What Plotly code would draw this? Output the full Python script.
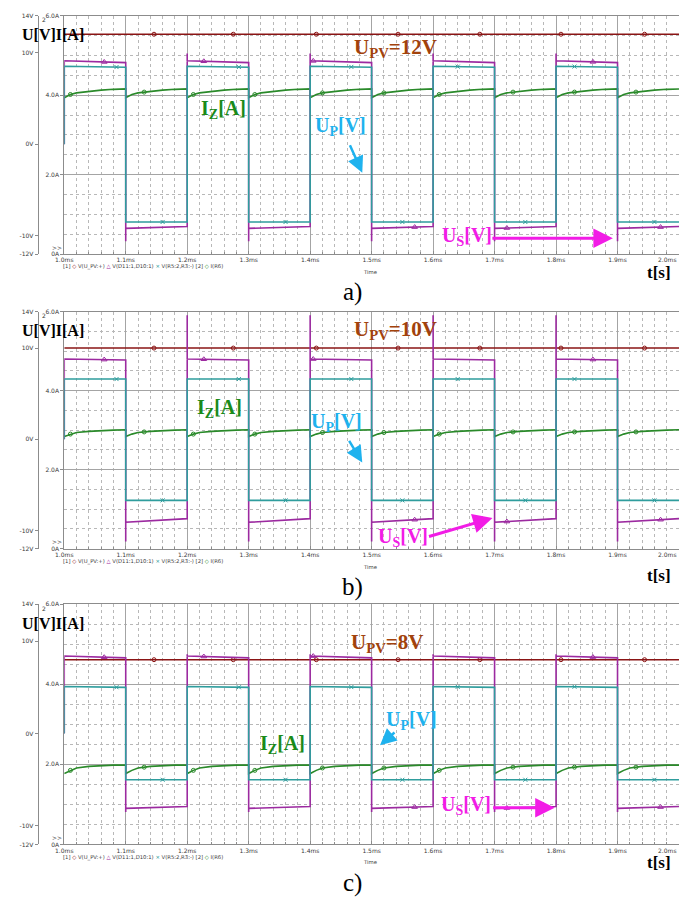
import plotly.graph_objects as go

# ---------------- data ----------------
T_SWITCH = [1.0, 1.1, 1.2, 1.3, 1.4, 1.5, 1.6, 1.7, 1.8, 1.9, 2.0]   # ms
STATE = [1, 0, 1, 0, 1, 0, 1, 0, 1, 0]                               # 1 = high half-period
X_TICKS = [1.0, 1.1, 1.2, 1.3, 1.4, 1.5, 1.6, 1.7, 1.8, 1.9]
X_TICKTEXT = ["1.0ms", "1.1ms", "1.2ms", "1.3ms", "1.4ms", "1.5ms", "1.6ms", "1.7ms", "1.8ms", "1.9ms"]
V_TICKS = [14, 10, 0, -10, -12]
V_TICKTEXT = ["14V", "10V", "0V", "-10V", "-12V"]
A_TICKS = [0, 2, 4, 6]
A_TICKTEXT = ["0A", "2.0A", "4.0A", "6.0A"]
IZ_OFFSETS = [0.0, 0.01, 0.02, 0.04, 0.06, 0.08, 0.1]

# panel a)  U_PV = 12 V
A_UPV = 12.0
A_US_HIGH = [9.1, 8.9]
A_US_LOW = [-9.2, -9.0]
A_US_SPIKE = [9.9, -10.6]
A_UP_HIGH = [8.5, 8.4]
A_UP_LOW = [-8.5, -8.5]
A_IZ = [3.94, 4.02, 4.06, 4.10, 4.13, 4.15, 4.16]

# panel b)  U_PV = 10 V
B_UPV = 10.0
B_US_HIGH = [8.8, 8.7]
B_US_LOW = [-9.1, -8.7]
B_US_SPIKE = [13.6, -11.2]
B_UP_HIGH = [6.6, 6.6]
B_UP_LOW = [-6.7, -6.7]
B_IZ = [2.84, 2.90, 2.94, 2.97, 2.99, 3.00, 3.01]

# panel c)  U_PV = 8 V
C_UPV = 8.0
C_US_HIGH = [8.4, 8.2]
C_US_LOW = [-8.1, -7.9]
C_US_SPIKE = [8.6, -8.5]
C_UP_HIGH = [5.1, 5.0]
C_UP_LOW = [-5.0, -5.0]
C_IZ = [1.77, 1.85, 1.91, 1.95, 1.97, 1.98, 1.98]

# marker times (PSpice symbols along the traces)
UPV_MARK_T = [1.146, 1.275, 1.41, 1.543, 1.676, 1.808, 1.944]
US_MARK_T = [1.065, 1.227, 1.405, 1.57, 1.72, 1.86, 1.97]
UP_MARK_T = [1.085, 1.16, 1.284, 1.36, 1.467, 1.55, 1.64, 1.75, 1.83, 1.96]
IZ_MARK_T = [1.01, 1.13, 1.21, 1.31, 1.42, 1.52, 1.61, 1.73, 1.83, 1.93]

PANELS = [
    dict(upv=A_UPV, us_hi=A_US_HIGH, us_lo=A_US_LOW, us_sp=A_US_SPIKE, up_hi=A_UP_HIGH, up_lo=A_UP_LOW,
         iz=A_IZ, top=12, bot=252, letter="a)", upv_text="U<sub>PV</sub>=12V",
         upv_lab=(348, 44), iz_lab=(193, 106), up_lab=(308, 123), us_lab=(437, 234),
         up_arrow=((345, 141), (358, 170)), us_arrow=((490, 236), (612, 236)),
         letter_y=290, ts_y=271),
    dict(upv=B_UPV, us_hi=B_US_HIGH, us_lo=B_US_LOW, us_sp=B_US_SPIKE, up_hi=B_UP_HIGH, up_lo=B_UP_LOW,
         iz=B_IZ, top=310, bot=549, letter="b)", upv_text="U<sub>PV</sub>=10V",
         upv_lab=(348, 329), iz_lab=(188, 408), up_lab=(304, 422), us_lab=(372, 538),
         up_arrow=((344, 439), (358, 462)), us_arrow=((425, 537), (490, 518)),
         letter_y=588, ts_y=576),
    dict(upv=C_UPV, us_hi=C_US_HIGH, us_lo=C_US_LOW, us_sp=C_US_SPIKE, up_hi=C_UP_HIGH, up_lo=C_UP_LOW,
         iz=C_IZ, top=605, bot=847, letter="c)", upv_text="U<sub>PV</sub>=8V",
         upv_lab=(345, 644), iz_lab=(252, 746), up_lab=(380, 722), us_lab=(436, 808),
         up_arrow=((392, 733), (376, 747)), us_arrow=((490, 810), (553, 810)),
         letter_y=886, ts_y=865),
]

# ---------------- styling ----------------
W, H = 679, 898
C_UPV_LINE = "#8a1414"
C_US_LINE = "#9c2aa0"
C_UP_LINE = "#2f9d9d"
C_IZ_LINE = "#2a8a2a"
C_UPV_LAB = "#a2420c"
C_US_LAB = "#f21ce6"
C_UP_LAB = "#1eb2ee"
C_IZ_LAB = "#1a8a1a"
GRID_MAJ = "#a4a4a4"
GRID_MIN = "#b8b8b8"
AXIS_COL = "#8c8c8c"
TINY = dict(family="DejaVu Sans", size=6, color="#3a3a3a")
LEG = dict(family="DejaVu Sans", size=5.3, color="#3a3a3a")
SERIF = "Liberation Serif"


def px(x):
    return x / W


def py(y):
    return 1 - y / H


def square(hi, lo, spike=None):
    xs, ys = [T_SWITCH[0]], [0.0]
    for i in range(len(T_SWITCH) - 1):
        t0, t1 = T_SWITCH[i], T_SWITCH[i + 1]
        high = STATE[i] == 1
        s, e = hi if high else lo
        if spike is not None and i > 0:
            xs.append(t0)
            ys.append(spike[0] if high else spike[1])
        xs += [t0, t1]
        ys += [s, e]
    return xs, ys


def level_at(t, hi, lo):
    for i in range(len(T_SWITCH) - 1):
        if T_SWITCH[i] <= t < T_SWITCH[i + 1]:
            s, e = hi if STATE[i] == 1 else lo
            f = (t - T_SWITCH[i]) / (T_SWITCH[i + 1] - T_SWITCH[i])
            return s + (e - s) * f
    return hi[0]


def iz_curve(profile):
    xs, ys = [], []
    for i in range(len(T_SWITCH) - 1):
        for off, v in zip(IZ_OFFSETS, profile):
            xs.append(T_SWITCH[i] + off)
            ys.append(v)
    return xs, ys


def iz_at(t, profile):
    for i in range(len(T_SWITCH) - 1):
        if T_SWITCH[i] <= t < T_SWITCH[i + 1]:
            d = t - T_SWITCH[i]
            for k in range(len(IZ_OFFSETS) - 1):
                if IZ_OFFSETS[k] <= d <= IZ_OFFSETS[k + 1]:
                    f = (d - IZ_OFFSETS[k]) / (IZ_OFFSETS[k + 1] - IZ_OFFSETS[k])
                    return profile[k] + (profile[k + 1] - profile[k]) * f
    return profile[0]


fig = go.Figure()
layout = dict(width=W, height=H, margin=dict(l=0, r=0, t=0, b=0), paper_bgcolor="white",
              plot_bgcolor="white", showlegend=False)
annotations = []

for k, p in enumerate(PANELS):
    xn = "x" if k == 0 else f"x{k + 1}"
    ya = "y" if k == 0 else f"y{2 * k + 1}"
    yv = f"y{2 * k + 2}"
    dom = [py(p["bot"]), py(p["top"])]

    layout["xaxis" if k == 0 else f"xaxis{k + 1}"] = dict(
        domain=[px(56), 1], range=[1.0, 2.0], anchor=ya,
        tickmode="array", tickvals=X_TICKS, ticktext=X_TICKTEXT,
        showgrid=True, gridcolor=GRID_MAJ, gridwidth=1,
        minor=dict(tickmode="linear", tick0=1.0, dtick=0.02, showgrid=True, gridcolor=GRID_MIN,
                   griddash="dot", gridwidth=1, ticks="inside", ticklen=2, tickcolor=AXIS_COL),
        ticks="inside", ticklen=3, tickcolor=AXIS_COL, showline=True, linecolor=AXIS_COL,
        mirror=True, zeroline=False, tickfont=TINY, fixedrange=True, ticklabelstandoff=0)
    layout["yaxis" if k == 0 else f"yaxis{2 * k + 1}"] = dict(
        domain=dom, range=[0, 6], anchor=xn,
        tickmode="array", tickvals=A_TICKS, ticktext=A_TICKTEXT,
        showgrid=True, gridcolor=GRID_MAJ, gridwidth=1,
        minor=dict(tickmode="linear", tick0=0, dtick=0.5, showgrid=True, gridcolor=GRID_MIN,
                   griddash="dot", gridwidth=1),
        ticks="outside", ticklen=3, tickcolor=AXIS_COL, showline=True, linecolor=AXIS_COL,
        zeroline=False, tickfont=TINY, fixedrange=True)
    layout[f"yaxis{2 * k + 2}"] = dict(
        domain=dom, range=[-12, 14], overlaying=ya, anchor="free", position=px(29), side="left",
        tickmode="array", tickvals=V_TICKS, ticktext=V_TICKTEXT,
        showgrid=False, zeroline=False, showline=True, linecolor=AXIS_COL,
        ticks="outside", ticklen=3, tickcolor=AXIS_COL, tickfont=TINY, fixedrange=True)

    # I_Z (axis 2, amps)
    ix, iy = iz_curve(p["iz"])
    fig.add_trace(go.Scatter(x=ix, y=iy, mode="lines", line=dict(color=C_IZ_LINE, width=1.6),
                             xaxis=xn, yaxis=ya, hoverinfo="skip"))
    fig.add_trace(go.Scatter(x=IZ_MARK_T, y=[iz_at(t, p["iz"]) for t in IZ_MARK_T], mode="markers",
                             marker=dict(symbol="circle-open", size=4, color=C_IZ_LINE, line=dict(width=1)),
                             xaxis=xn, yaxis=ya, hoverinfo="skip"))
    # U_PV (dark red)
    fig.add_trace(go.Scatter(x=[T_SWITCH[0], T_SWITCH[-1]], y=[p["upv"], p["upv"]], mode="lines",
                             line=dict(color=C_UPV_LINE, width=1.6), xaxis=xn, yaxis=yv, hoverinfo="skip"))
    fig.add_trace(go.Scatter(x=UPV_MARK_T, y=[p["upv"]] * len(UPV_MARK_T), mode="markers",
                             marker=dict(symbol="circle-open", size=4, color=C_UPV_LINE, line=dict(width=1)),
                             xaxis=xn, yaxis=yv, hoverinfo="skip"))
    # U_S (purple)
    sx, sy = square(p["us_hi"], p["us_lo"], p["us_sp"])
    fig.add_trace(go.Scatter(x=sx, y=sy, mode="lines", line=dict(color=C_US_LINE, width=1.6),
                             xaxis=xn, yaxis=yv, hoverinfo="skip"))
    fig.add_trace(go.Scatter(x=US_MARK_T, y=[level_at(t, p["us_hi"], p["us_lo"]) for t in US_MARK_T],
                             mode="markers", marker=dict(symbol="triangle-up-open", size=5, color=C_US_LINE,
                                                         line=dict(width=1)),
                             xaxis=xn, yaxis=yv, hoverinfo="skip"))
    # U_P (teal), drawn over U_S as in PSpice
    ux, uy = square(p["up_hi"], p["up_lo"])
    fig.add_trace(go.Scatter(x=ux, y=uy, mode="lines", line=dict(color=C_UP_LINE, width=1.6),
                             xaxis=xn, yaxis=yv, hoverinfo="skip"))
    fig.add_trace(go.Scatter(x=UP_MARK_T, y=[level_at(t, p["up_hi"], p["up_lo"]) for t in UP_MARK_T],
                             mode="markers", marker=dict(symbol="x-thin-open", size=4, color=C_UP_LINE,
                                                         line=dict(width=1, color=C_UP_LINE)),
                             xaxis=xn, yaxis=yv, hoverinfo="skip"))

    top, bot = p["top"], p["bot"]
    # small PSpice decorations
    annotations += [
        dict(x=px(35), y=py(top + 4), text="2", font=dict(family="DejaVu Sans", size=6, color="#333"),
             showarrow=False, xanchor="center", yanchor="middle"),
        dict(x=px(49), y=py(bot - 7), text="&gt;&gt;", font=TINY, showarrow=False,
             xanchor="center", yanchor="middle"),
        dict(x=1, y=py(bot + 6), text="2.0ms", font=TINY, showarrow=False, xanchor="right", yanchor="middle"),
        dict(x=px(366), y=py(bot + 18), text="Time", font=LEG, showarrow=False,
             xanchor="center", yanchor="middle"),
        dict(x=px(53), y=py(bot + 13), showarrow=False, xanchor="left", yanchor="middle", font=LEG,
             text=("[1] <span style='color:%s'>◇</span> V(U_PV:+) <span style='color:%s'>△</span> V(D11:1,D10:1)"
                   " <span style='color:%s'>×</span> V(R5:2,R3:-) [2] <span style='color:%s'>◇</span> I(R6)")
             % (C_UPV_LINE, C_US_LINE, C_UP_LINE, C_IZ_LINE)),
    ]
    # big labels
    annotations += [
        dict(x=px(11), y=py(top + 19), text="<b>U[V]I[A]</b>", showarrow=False, xanchor="left",
             yanchor="middle", font=dict(family=SERIF, size=16, color="black")),
        dict(x=px(p["upv_lab"][0]), y=py(p["upv_lab"][1]), text="<b>%s</b>" % p["upv_text"], showarrow=False,
             xanchor="left", yanchor="middle", font=dict(family=SERIF, size=21, color=C_UPV_LAB)),
        dict(x=px(p["iz_lab"][0]), y=py(p["iz_lab"][1]), text="<b>I<sub>Z</sub>[A]</b>", showarrow=False,
             xanchor="left", yanchor="middle", font=dict(family=SERIF, size=20, color=C_IZ_LAB)),
        dict(x=px(p["up_lab"][0]), y=py(p["up_lab"][1]), text="<b>U<sub>P</sub>[V]</b>", showarrow=False,
             xanchor="left", yanchor="middle", font=dict(family=SERIF, size=20, color=C_UP_LAB)),
        dict(x=px(p["us_lab"][0]), y=py(p["us_lab"][1]), text="<b>U<sub>S</sub>[V]</b>", showarrow=False,
             xanchor="left", yanchor="middle", font=dict(family=SERIF, size=20, color=C_US_LAB)),
        dict(x=px(673), y=py(p["ts_y"]), text="<b>t[s]</b>", showarrow=False, xanchor="right",
             yanchor="middle", font=dict(family=SERIF, size=17, color="black")),
        dict(x=px(348), y=py(p["letter_y"]), text=p["letter"], showarrow=False, xanchor="center",
             yanchor="middle", font=dict(family=SERIF, size=25, color="black")),
    ]
    # arrows
    (tx, ty), (hx, hy) = p["up_arrow"]
    annotations.append(dict(x=px(hx), y=py(hy), ax=tx - hx, ay=ty - hy, text="", showarrow=True,
                            arrowhead=2, arrowsize=1.3, arrowwidth=2.5, arrowcolor=C_UP_LAB,
                            xref="paper", yref="paper"))
    (tx, ty), (hx, hy) = p["us_arrow"]
    annotations.append(dict(x=px(hx), y=py(hy), ax=tx - hx, ay=ty - hy, text="", showarrow=True,
                            arrowhead=2, arrowsize=1.3, arrowwidth=3, arrowcolor=C_US_LAB,
                            xref="paper", yref="paper"))

for a in annotations:
    a.setdefault("xref", "paper")
    a.setdefault("yref", "paper")
layout["annotations"] = annotations
fig.update_layout(**layout)
fig.write_html("out.html", config={"displayModeBar": False, "staticPlot": True},
               post_script="document.body.style.margin='0px';document.body.style.padding='0px';")
